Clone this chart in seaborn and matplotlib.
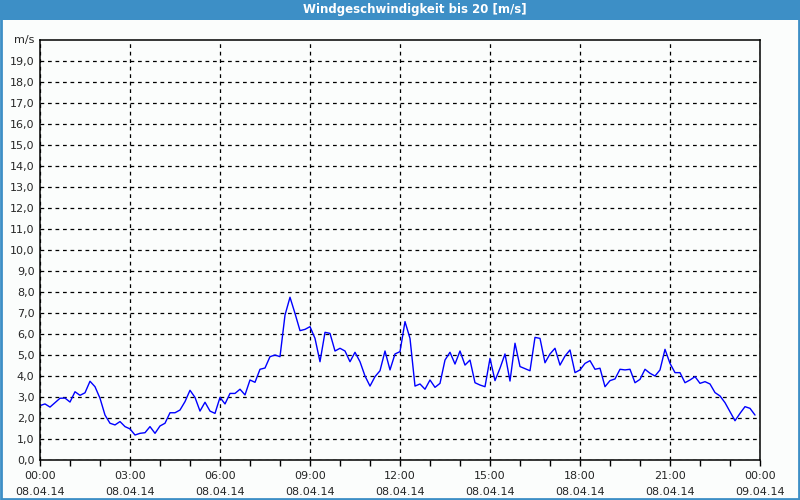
import numpy as np
import pandas as pd
import matplotlib
matplotlib.use("Agg")
import matplotlib.pyplot as plt
import matplotlib.dates as mdates
from matplotlib.patches import Rectangle
import seaborn as sns

title = "Windgeschwindigkeit bis 20 [m/s]"
unit_label = "m/s"
start_time = "2014-04-08 00:00"
end_time = "2014-04-09 00:00"

wind_speed = [
    2.59, 2.67, 2.52, 2.73, 2.94, 2.95, 2.76, 3.25, 3.08, 3.20, 3.75, 3.49,
    2.94, 2.14, 1.75, 1.67, 1.83, 1.59, 1.48, 1.19, 1.27, 1.30, 1.59, 1.27,
    1.62, 1.75, 2.25, 2.25, 2.38, 2.78, 3.32, 2.98, 2.33, 2.75, 2.33, 2.22,
    2.98, 2.67, 3.17, 3.17, 3.37, 3.10, 3.81, 3.70, 4.32, 4.38, 4.92, 5.00,
    4.92, 6.90, 7.75, 6.98, 6.16, 6.22, 6.35, 5.79, 4.68, 6.08, 6.03, 5.19,
    5.32, 5.19, 4.68, 5.13, 4.68, 4.00, 3.52, 3.97, 4.25, 5.19, 4.29, 5.05,
    5.16, 6.59, 5.79, 3.52, 3.62, 3.37, 3.81, 3.46, 3.65, 4.76, 5.13, 4.57,
    5.19, 4.52, 4.76, 3.68, 3.57, 3.49, 4.84, 3.78, 4.37, 5.05, 3.76, 5.56,
    4.45, 4.35, 4.25, 5.84, 5.79, 4.63, 5.05, 5.32, 4.52, 4.95, 5.24, 4.16,
    4.29, 4.60, 4.73, 4.32, 4.37, 3.49, 3.78, 3.86, 4.32, 4.29, 4.32, 3.68,
    3.84, 4.32, 4.13, 4.00, 4.29, 5.27, 4.60, 4.16, 4.16, 3.68, 3.81, 3.97,
    3.65, 3.73, 3.62, 3.21, 3.05, 2.73, 2.30, 1.87, 2.22, 2.54, 2.46, 2.14,
]
y_ticks = list(range(0, 20))
y_tick_labels = [f"{v},0" for v in y_ticks]

times = pd.date_range(start_time, periods=len(wind_speed), freq="10min")
df = pd.DataFrame({"time": times, "speed": wind_speed})

bg = "#FBFDFC"
blue_bar = "#3D8FC6"

sns.set_style("white")
plt.rcParams["font.family"] = ["DejaVu Sans"]

fig = plt.figure(figsize=(8, 5), dpi=100, facecolor=bg)
ax = fig.add_axes([40 / 800, 40 / 500, 720 / 800, 420 / 500])
ax.set_facecolor(bg)

sns.lineplot(data=df, x="time", y="speed", ax=ax, color="#0000FF", linewidth=1.0)

ax.set_xlim(pd.Timestamp(start_time), pd.Timestamp(end_time))
ax.set_ylim(0, 20)
ax.set_xlabel("")
ax.set_ylabel("")

ax.xaxis.set_major_locator(mdates.HourLocator(byhour=range(0, 24, 3)))
ax.xaxis.set_minor_locator(mdates.HourLocator())
ax.xaxis.set_major_formatter(mdates.DateFormatter("%H:%M\n%d.%m.%y"))
ax.set_yticks(y_ticks)
ax.set_yticklabels(y_tick_labels)

ax.tick_params(axis="x", which="major", length=4, width=1, color="black",
               labelsize=8, pad=4, direction="out", bottom=True)
ax.tick_params(axis="x", which="minor", length=4, width=1, color="black",
               direction="out", bottom=True)
ax.tick_params(axis="y", which="major", length=0, labelsize=8, pad=4)
for lab in ax.get_xticklabels():
    lab.set_linespacing(1.7)

ax.grid(True, which="major", axis="both", color="black", linestyle=(0, (3, 3)),
        linewidth=0.9)
for s in ax.spines.values():
    s.set_visible(True)
    s.set_color("black")
    s.set_linewidth(1.1)

ax.text(-0.008, 1.0, unit_label, transform=ax.transAxes, ha="right", va="center",
        fontsize=8)

# Title bar
fig.patches.append(Rectangle((0, 1 - 20 / 500), 1, 20 / 500, transform=fig.transFigure,
                             facecolor=blue_bar, edgecolor="none", zorder=0))
fig.text(415 / 800, 1 - 10 / 500, title, ha="center", va="center", color="white",
         fontsize=8.5, fontweight="bold")
# Outer border
fig.patches.append(Rectangle((0.001, 0.002), 0.998, 0.996, transform=fig.transFigure,
                             facecolor="none", edgecolor=blue_bar, linewidth=2, zorder=5))

fig.savefig("out.png", dpi=100, facecolor=bg)
